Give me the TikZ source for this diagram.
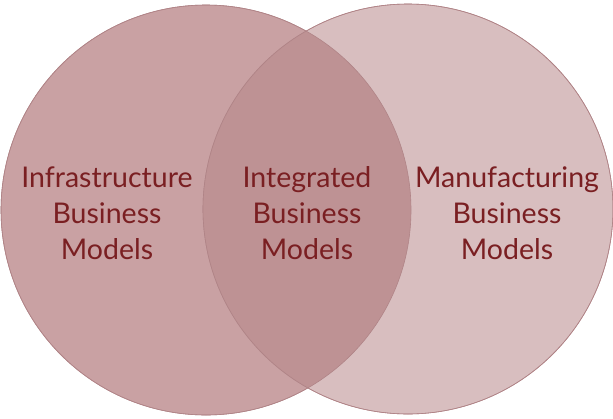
\documentclass[tikz,border=0pt]{standalone}
\usepackage{fontspec}
\setmainfont{Lato}
\usetikzlibrary{positioning}
\definecolor{infraFill}{HTML}{C9A1A3}
\definecolor{manuFill}{HTML}{D8BEBF}
\definecolor{integFill}{HTML}{BE9294}
\definecolor{rimline}{HTML}{B08487}
\definecolor{labeltext}{HTML}{7A1F22}
\begin{document}
\begin{tikzpicture}[x=1pt,y=-1pt,
ring/.style={circle,draw=rimline,line width=.6pt,fill=#1,minimum size=410pt,inner sep=0pt},
label/.style={text=labeltext,align=center,font=\fontsize{28.5}{36}\selectfont}]
\useasboundingbox (0,0) rectangle (613,418);
\node[ring=infraFill] (infra) at (206,210) {};
\node[ring=manuFill] (manu) at (408,209) {};
% overlap of the two sets
\begin{scope}
\clip (206,210) circle (205);
\fill[integFill] (408,209) circle (205);
\end{scope}
\draw[rimline,line width=.6pt] (206,210) circle (205);
\draw[rimline,line width=.6pt] (408,209) circle (205);
\node[label] (infraText) at (107,213) {Infrastructure\\Business\\Models};
\node[label] (integText) at (307,213) {Integrated\\Business\\Models};
\node[label] (manuText) at (507,213) {Manufacturing\\Business\\Models};
\end{tikzpicture}
\end{document}
